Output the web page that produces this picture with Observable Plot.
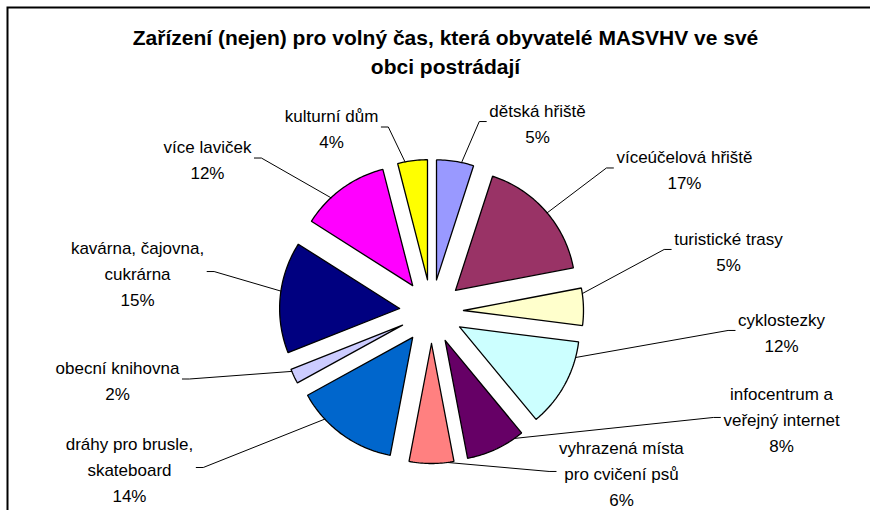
<!DOCTYPE html>
<html><head><meta charset="utf-8">
<script src="https://cdn.jsdelivr.net/npm/d3@7"></script>
<script src="https://cdn.jsdelivr.net/npm/@observablehq/plot@0.6"></script>
<style>
body{margin:0;background:#fff;overflow:hidden;}
#chart{position:relative;width:870px;height:510px;overflow:hidden;}
</style></head><body><div id="chart"></div>
<script>
// ---- data (clockwise from 12 o'clock) ----
const categories = ["dětská hřiště","víceúčelová hřiště","turistické trasy","cyklostezky","infocentrum a veřejný internet","vyhrazená místa pro cvičení psů","dráhy pro brusle, skateboard","obecní knihovna","kavárna, čajovna, cukrárna","více laviček","kulturní dům"];
const labelTexts = ["dětská hřiště","víceúčelová hřiště","turistické trasy","cyklostezky","infocentrum a\nveřejný internet","vyhrazená místa\npro cvičení psů","dráhy pro brusle,\nskateboard","obecní knihovna","kavárna, čajovna,\ncukrárna","více laviček","kulturní dům"];
const values = [5,17,5,12,8,6,14,2,15,12,4];
const colors = ["#9999FF","#993366","#FFFFCC","#CCFFFF","#660066","#FF8080","#0066CC","#CCCCFF","#000080","#FF00FF","#FFFF00"];
// label block centres, in units of pie radius relative to pie centre (y up)
const labelX = [0.883, 2.108, 2.475, 2.917, 2.917, 1.583, -2.517, -2.617, -2.45, -1.867, -0.833];
const labelY = [1.583, 1.196, 0.517, -0.158, -0.883, -1.333, -1.3, -0.5625, 0.333, 1.279, 1.5375];
const title = "Zařízení (nejen) pro volný čas, která obyvatelé MASVHV ve své\nobci postrádají";

// ---- layout ----
const FONT = 'Arial, "Liberation Sans", sans-serif';
const FS = 17;
const W = 870, H = 510, cx = 431, cy = 311, R = 120;
const explode = 32 / R;
const total = d3.sum(values);
const rad = a => a * Math.PI / 180;
const pt = (a, r, ox = 0, oy = 0) => [ox + r * Math.sin(rad(a)), oy + r * Math.cos(rad(a))];

let cum = 0;
const slices = values.map((v, i) => {
  const a0 = cum / total * 360; cum += v; const a1 = cum / total * 360;
  return {i, cat: categories[i], v, a0, a1, mid: (a0 + a1) / 2, color: colors[i],
          label: labelTexts[i] + "\n" + v + "%", lx: labelX[i], ly: labelY[i]};
});

const wedges = slices.flatMap(s => {
  const tip = pt(s.mid, explode);
  const n = Math.max(2, Math.ceil(s.a1 - s.a0));
  const pts = [tip];
  for (let k = 0; k <= n; k++) pts.push(pt(s.a0 + (s.a1 - s.a0) * k / n, 1, tip[0], tip[1]));
  pts.push(tip);
  return pts.map(([x, y]) => ({id: s.i, x, y, color: s.color}));
});

const ctx = document.createElement("canvas").getContext("2d");
ctx.font = `${FS}px ${FONT}`;
const blockW = t => d3.max(t.split("\n"), s => ctx.measureText(s).width);

const leaders = slices.flatMap(s => {
  const tip = pt(s.mid, explode);
  const w = blockW(s.label) / R;
  const midPt = pt(s.mid, 1, tip[0], tip[1]);
  const onLeft = s.lx < midPt[0];
  const edge = onLeft ? s.lx + w / 2 : s.lx - w / 2;
  const sgn = onLeft ? 1 : -1;
  const stub = [edge + sgn * 3 / R, s.ly];
  const elbow = [edge + sgn * 10 / R, s.ly];
  const ea = Math.atan2(elbow[0] - tip[0], elbow[1] - tip[1]) * 180 / Math.PI;
  const diff = ((ea - s.mid + 540) % 360) - 180;
  const span = s.a1 - s.a0;
  const aa = Math.max(s.a0 + span * 0.15, Math.min(s.a1 - span * 0.15, s.mid + 0.5 * diff));
  const anchor = pt(aa, 1, tip[0], tip[1]);
  return [anchor, elbow, stub].map(([x, y]) => ({id: s.i, x, y}));
});

const chart = Plot.plot({
  width: W, height: H,
  margin: 0,
  x: {domain: [-cx / R, (W - cx) / R], axis: null},
  y: {domain: [(cy - H) / R, cy / R], axis: null},
  color: {type: "identity"},
  style: {fontFamily: FONT, fontSize: FS + "px", background: "white", color: "black"},
  marks: [
    Plot.frame({stroke: "black", strokeWidth: 2, insetLeft: 7, insetTop: 7, insetRight: -20, insetBottom: -20}),
    Plot.line(wedges, {x: "x", y: "y", z: "id", fill: "color", stroke: "black", strokeWidth: 1.3, curve: "linear", strokeLinejoin: "miter"}),
    Plot.line(leaders, {x: "x", y: "y", z: "id", stroke: "black", strokeWidth: 1}),
    Plot.text(slices, {x: "lx", y: "ly", text: "label", fontSize: FS, lineHeight: 1.53, lineAnchor: "middle", textAnchor: "middle", fill: "black"}),
    Plot.text([title], {frameAnchor: "top", dx: 10, dy: 50, text: d => d, fontSize: 21, fontWeight: "bold", lineHeight: 1.35, lineAnchor: "middle", fill: "black"})
  ]
});
document.getElementById("chart").appendChild(chart);
</script></body></html>
